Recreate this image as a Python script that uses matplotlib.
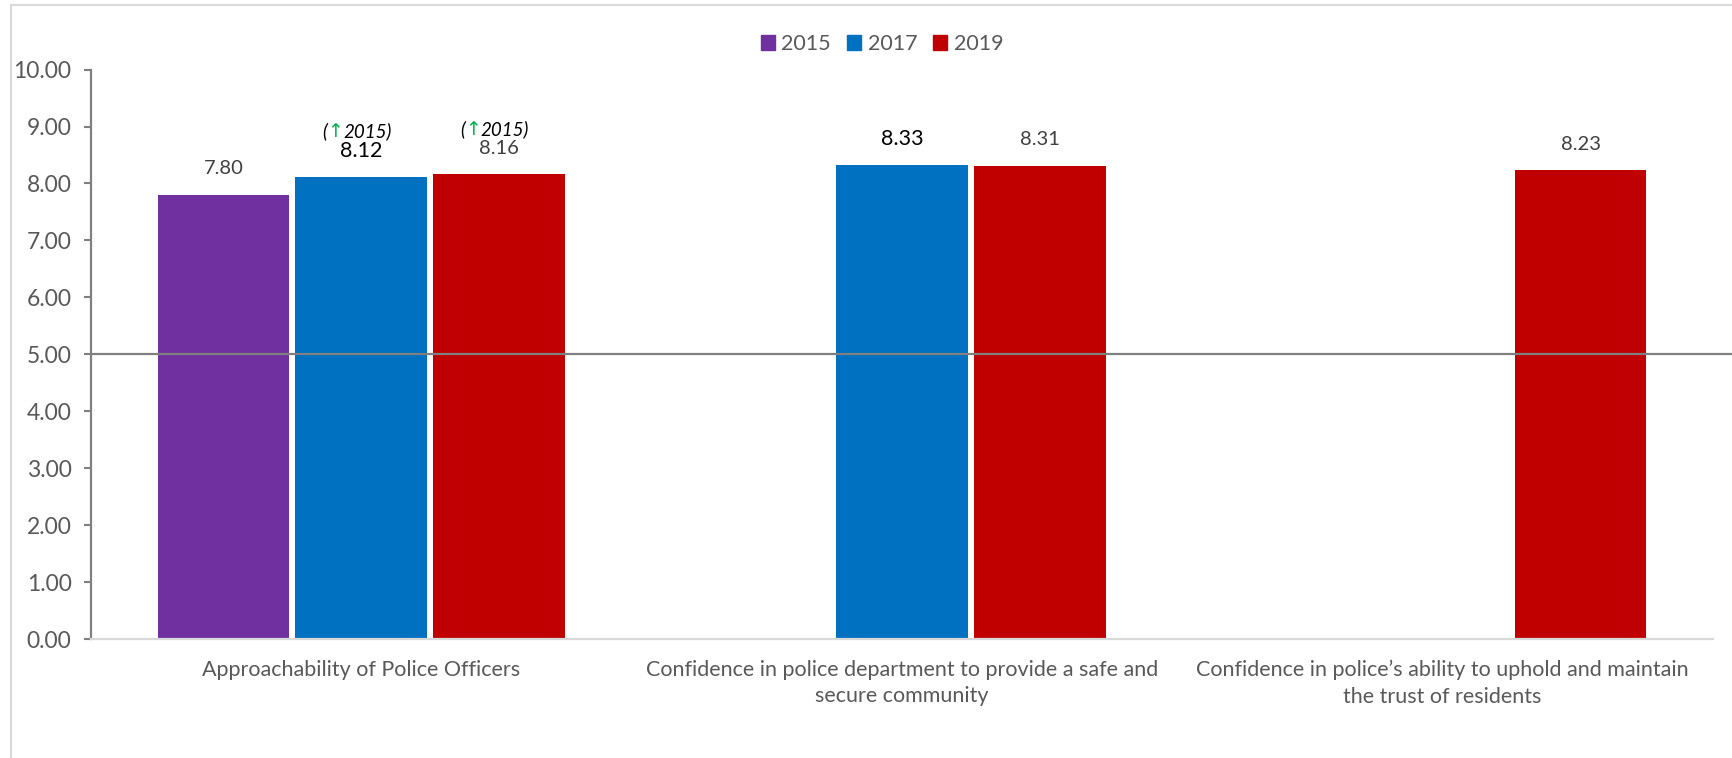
import matplotlib
matplotlib.use('Agg')
import matplotlib.pyplot as plt
import matplotlib.patches as patches
import numpy as np

plt.rcParams['font.family'] = ['Lato', 'DejaVu Sans']

categories = ['Approachability of Police Officers',
              'Confidence in police department to provide a safe and\nsecure community',
              'Confidence in police\u2019s ability to uphold and maintain\nthe trust of residents']
years = ['2015', '2017', '2019']
values_2015 = [7.80, None, None]
values_2017 = [8.12, 8.33, None]
values_2019 = [8.16, 8.31, 8.23]
# label colour / size per bar, and which bars carry the "(up 2015)" note
label_dark = {('2017', 0), ('2017', 1)}
up_notes = [('2017', 0), ('2019', 0)]

colors = {'2015': '#7030A0', '2017': '#0070C0', '2019': '#C00000'}
series = {'2015': values_2015, '2017': values_2017, '2019': values_2019}

fig = plt.figure(figsize=(17.33, 7.58), dpi=100)
ax = fig.add_axes([91/1733, 119/758, (1713-91)/1733, (639-69.6)/758])

# outer frame of the original chart (cropped on right/bottom)
fig.patches.append(patches.Rectangle((11/1733, -0.05), 1.2, 1 - 5/758 + 0.05,
                                     transform=fig.transFigure, fill=False,
                                     edgecolor='#d9d9d9', linewidth=1.5))

x = np.arange(len(categories))
step = 0.255
width = 0.244
for j, yr in enumerate(years):
    vals = series[yr]
    for i, v in enumerate(vals):
        if v is None:
            continue
        xi = x[i] + (j - 1) * step
        ax.bar(xi, v, width=width, color=colors[yr], edgecolor='none', zorder=2)
        dark = (yr, i) in label_dark
        ax.annotate('%.2f' % v, xy=(xi, v), xytext=(0, 26), textcoords='offset pixels',
                    ha='center', va='center', fontsize=15.5 if dark else 14.5,
                    color='black' if dark else '#404040')
        if (yr, i) in up_notes:
            t1 = ax.annotate('(', xy=(xi, v), xytext=(-39, 45), textcoords='offset pixels',
                             ha='left', va='center', fontsize=13.5, style='italic', color='black')
            t2 = ax.annotate('\u2191', xy=(1, 0.5), xycoords=t1, ha='left', va='center',
                             fontsize=13.5, color='#00B050', family=['DejaVu Sans'])
            ax.annotate('2015)', xy=(1, 0.5), xycoords=t2, ha='left', va='center',
                        fontsize=13.5, style='italic', color='black')

# reference line at 5.00
ax.axhline(5, xmin=0, xmax=1.02, color='#808080', linewidth=1.6, clip_on=False, zorder=3)

ax.set_xlim(-0.5, 2.5)
ax.set_ylim(0, 10)
ax.set_yticks(np.arange(0, 10.01, 1))
ax.set_yticklabels(['%.2f' % t for t in np.arange(0, 10.01, 1)])
ax.set_xticks(x)
ax.set_xticklabels(categories, linespacing=1.4)
ax.tick_params(axis='y', colors='#808080', labelcolor='#595959', labelsize=16.5,
               length=5, width=1.5, pad=9)
ax.tick_params(axis='x', length=0, labelcolor='#595959', labelsize=15.5, pad=15)

for s in ['top', 'right']:
    ax.spines[s].set_visible(False)
ax.spines['left'].set_color('#808080')
ax.spines['left'].set_linewidth(1.6)
ax.spines['bottom'].set_color('#d9d9d9')
ax.spines['bottom'].set_linewidth(1.6)

handles = [patches.Patch(color=colors[y]) for y in years]
fig.legend(handles, years, loc='center', bbox_to_anchor=(0.509, 1 - 44/758), ncol=3,
           frameon=False, fontsize=15.5, handlelength=0.65, handleheight=0.65,
           handletextpad=0.3, columnspacing=0.75, labelcolor='#595959')

fig.savefig('out.png', dpi=100)
